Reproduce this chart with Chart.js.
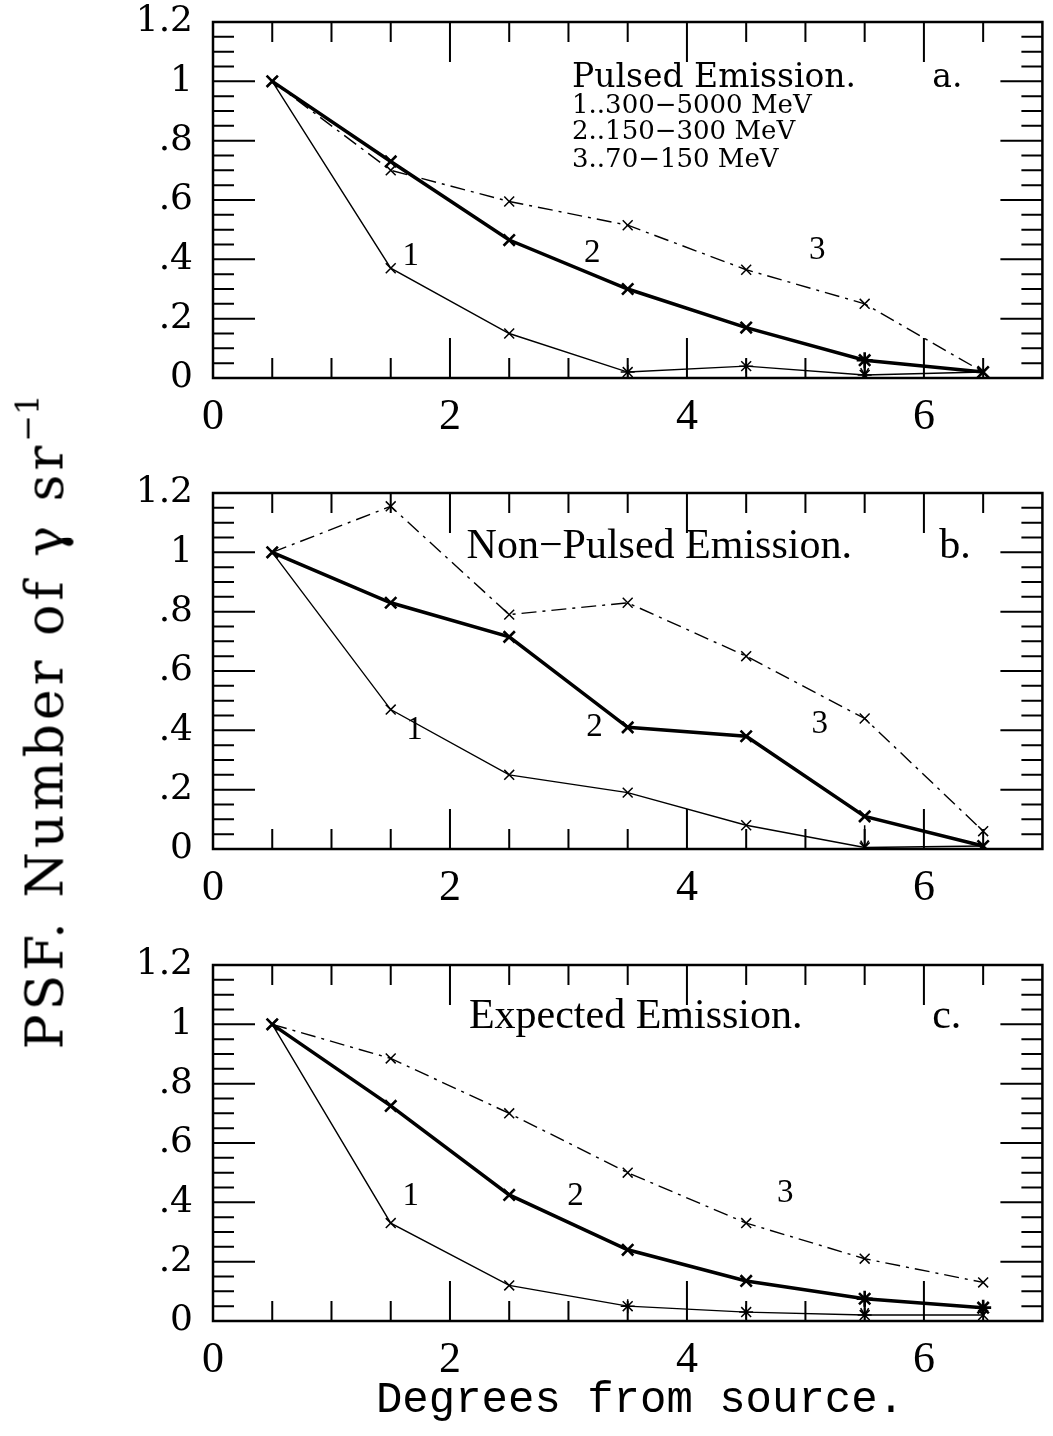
<!DOCTYPE html>
<html>
<head>
<meta charset="utf-8">
<script src="https://cdn.jsdelivr.net/npm/chart.js@4.4.0/dist/chart.umd.min.js"></script>
<style>
  body { margin: 0; background: #fff; }
  #page { position: relative; width: 1053px; height: 1436px; overflow: hidden; }
  canvas.panel { position: absolute; left: 0; }
  #ytitle {
    position: absolute; left: 41px; top: 722px;
    transform: translate(-50%, -50%) rotate(-90deg);
    font-family: "DejaVu Serif"; font-size: 52px; letter-spacing: 4px;
    white-space: nowrap; line-height: 1; color: #000;
  }
  #ytitle sup { font-size: 32px; vertical-align: 0.75em; letter-spacing: 0; }
  #xtitle {
    position: absolute; left: 640px; top: 1378px;
    transform: translateX(-50%);
    font-family: "Liberation Mono"; font-size: 44px;
    white-space: nowrap; line-height: 1; color: #000;
  }
</style>
</head>
<body>
<div id="page">
  <canvas id="panelA" class="panel" width="1053" height="460" style="top:0px"></canvas>
  <canvas id="panelB" class="panel" width="1053" height="460" style="top:471px"></canvas>
  <canvas id="panelC" class="panel" width="1053" height="460" style="top:943px"></canvas>
  <div id="ytitle">PSF. Number of γ sr<sup>−1</sup></div>
  <div id="xtitle">Degrees from source.</div>
</div>

<script>
// bin centres, degrees from the source
var xCenters = [0.5, 1.5, 2.5, 3.5, 4.5, 5.5, 6.5];
var xTickLabels = [0, 2, 4, 6];
var yTickLabels = [0, 0.2, 0.4, 0.6, 0.8, 1, 1.2];

// a. pulsed emission
var pulsedBand1 = [1.0, 0.37, 0.15, 0.02, 0.04, 0.01, 0.02];
var pulsedBand2 = [1.0, 0.73, 0.465, 0.30, 0.17, 0.06, 0.02];
var pulsedBand3 = [1.0, 0.70, 0.595, 0.515, 0.365, 0.25, 0.02];
var pulsedLimits = [null, null, null, null, null, 0.06, null];

// b. non-pulsed emission
var nonPulsedBand1 = [1.0, 0.47, 0.25, 0.19, 0.08, 0.005, 0.01];
var nonPulsedBand2 = [1.0, 0.83, 0.715, 0.41, 0.38, 0.11, 0.01];
var nonPulsedBand3 = [1.0, 1.155, 0.79, 0.83, 0.65, 0.44, 0.06];
var nonPulsedLimits = [null, null, null, null, null, 0.08, null];

// c. expected emission
var expectedBand1 = [1.0, 0.33, 0.12, 0.05, 0.03, 0.02, 0.02];
var expectedBand2 = [1.0, 0.725, 0.425, 0.24, 0.135, 0.075, 0.045];
var expectedBand3 = [1.0, 0.885, 0.70, 0.50, 0.33, 0.21, 0.13];
var expectedLimits = [null, null, null, null, null, 0.07, 0.06];

var bandNames = ['1..300−5000 MeV', '2..150−300 MeV', '3..70−150 MeV'];

function toPoints(values){
    return values.map(function(v, i){ return { x: xCenters[i], y: v }; });
}

// frame, inward ticks, limit arrows and the text inside each panel
var panelDecor = {
    id: 'panelDecor',
    afterDatasetsDraw: function(chart, args, opts){
        var ctx = chart.ctx;
        var area = chart.chartArea;
        var xs = chart.scales.x;
        var ys = chart.scales.y;

        ctx.save();
        ctx.strokeStyle = '#000';
        ctx.fillStyle = '#000';

        // ticks every 0.5 degree, long ones on the labelled values
        ctx.lineWidth = 2;
        for (var t = 0.5; t < 7; t += 0.5) {
            var px = xs.getPixelForValue(t);
            var len = (t % 2 === 0) ? 40 : 20;
            ctx.beginPath();
            ctx.moveTo(px, area.bottom); ctx.lineTo(px, area.bottom - len);
            ctx.moveTo(px, area.top); ctx.lineTo(px, area.top + len);
            ctx.stroke();
        }
        // y ticks every 0.05
        for (var k = 1; k < 24; k++) {
            var py = ys.getPixelForValue(k * 0.05);
            var ylen = (k % 4 === 0) ? 42 : 21;
            ctx.beginPath();
            ctx.moveTo(area.left, py); ctx.lineTo(area.left + ylen, py);
            ctx.moveTo(area.right, py); ctx.lineTo(area.right - ylen, py);
            ctx.stroke();
        }

        ctx.lineWidth = 2.5;
        ctx.strokeRect(area.left, area.top, area.right - area.left, area.bottom - area.top);

        // upper limits on the hard band
        ctx.lineWidth = 1.5;
        (opts.limits || []).forEach(function(top, i){
            if (top === null) return;
            var lx = xs.getPixelForValue(xCenters[i]);
            var y0 = ys.getPixelForValue(top);
            var y1 = ys.getPixelForValue(opts.base[i]);
            ctx.beginPath();
            ctx.moveTo(lx, y0); ctx.lineTo(lx, y1);
            ctx.moveTo(lx - 4, y1 - 7); ctx.lineTo(lx, y1); ctx.lineTo(lx + 4, y1 - 7);
            ctx.stroke();
        });

        // notes
        (opts.notes || []).forEach(function(n){
            ctx.font = n.font;
            ctx.textAlign = n.align || 'left';
            ctx.textBaseline = n.baseline || 'alphabetic';
            ctx.fillText(n.text, xs.getPixelForValue(n.x), ys.getPixelForValue(n.y));
        });
        ctx.restore();
    }
};

function makePanel(canvasId, band1, band2, band3, limits, notes, styles){
    var ctx = document.getElementById(canvasId).getContext('2d');

    return new Chart(ctx, {
        type: 'line',
        data: {
            datasets: [{
                data: toPoints(band1),
                borderColor: '#000',
                borderWidth: 1.4,
                pointStyle: styles.s1,
                pointRadius: 7,
                pointBorderWidth: 1.5,
                pointBorderColor: '#000',
                pointBackgroundColor: '#000'
            }, {
                data: toPoints(band2),
                borderColor: '#000',
                borderWidth: 3.5,
                pointStyle: styles.s2,
                pointRadius: 8,
                pointBorderWidth: 2.6,
                pointBorderColor: '#000',
                pointBackgroundColor: '#000'
            }, {
                data: toPoints(band3),
                borderColor: '#000',
                borderWidth: 1.4,
                borderDash: [15, 6, 3, 6],
                pointStyle: 'crossRot',
                pointRadius: 7,
                pointBorderWidth: 1.5,
                pointBorderColor: '#000',
                pointBackgroundColor: '#000'
            }]
        },
        options: {
            responsive: false,
            animation: false,
            devicePixelRatio: 1,
            layout: { padding: { top: 22, right: 7, left: 0, bottom: 0 } },
            plugins: {
                legend: { display: false },
                tooltip: { enabled: false },
                panelDecor: { limits: limits, base: band1, notes: notes }
            },
            scales: {
                x: {
                    type: 'linear', min: 0, max: 7,
                    grid: { display: false, drawTicks: false },
                    border: { display: false },
                    afterBuildTicks: function(s){ s.ticks = xTickLabels.map(function(v){ return { value: v }; }); },
                    afterFit: function(s){ s.height = 82; },
                    ticks: {
                        autoSkip: false, maxRotation: 0, padding: 13, color: '#000',
                        font: { family: 'Liberation Serif', size: 44 }
                    }
                },
                y: {
                    type: 'linear', min: 0, max: 1.2,
                    grid: { display: false, drawTicks: false },
                    border: { display: false },
                    afterBuildTicks: function(s){ s.ticks = yTickLabels.map(function(v){ return { value: v }; }); },
                    // fixed axis width; the top label fits in the layout padding
                    afterFit: function(s){ s.width = 213; s.paddingTop = 0; s.paddingBottom = 0; },
                    ticks: {
                        autoSkip: false, padding: 20, color: '#000',
                        font: { family: 'DejaVu Serif', size: 36 },
                        callback: function(v){ return String(Math.round(v * 10) / 10).replace(/^0\./, '.'); }
                    }
                }
            }
        },
        plugins: [panelDecor]
    });
}

var pulsedFont = '33px "DejaVu Serif"';
var titleFont = '42px "Liberation Serif"';
var bandFont = '26px "DejaVu Serif"';
var numFont = '33px "Liberation Serif"';

function curveNumbers(pos){
    return pos.map(function(p, i){
        return { text: String(i + 1), x: p[0], y: p[1], font: numFont, align: 'center', baseline: 'middle' };
    });
}

makePanel('panelA', pulsedBand1, pulsedBand2, pulsedBand3, pulsedLimits, [
    { text: 'Pulsed Emission.', x: 3.03, y: 0.98, font: pulsedFont },
    { text: 'a.', x: 6.07, y: 0.98, font: pulsedFont },
    { text: bandNames[0], x: 3.03, y: 0.892, font: bandFont },
    { text: bandNames[1], x: 3.03, y: 0.805, font: bandFont },
    { text: bandNames[2], x: 3.03, y: 0.71, font: bandFont }
].concat(curveNumbers([[1.67, 0.41], [3.20, 0.42], [5.10, 0.43]])), {
    s1: ['crossRot', 'crossRot', 'crossRot', 'star', 'star', 'star', 'crossRot'],
    s2: ['crossRot', 'crossRot', 'crossRot', 'crossRot', 'crossRot', 'star', 'crossRot']
});

makePanel('panelB', nonPulsedBand1, nonPulsedBand2, nonPulsedBand3, nonPulsedLimits, [
    { text: 'Non−Pulsed Emission.', x: 2.14, y: 0.98, font: titleFont },
    { text: 'b.', x: 6.13, y: 0.98, font: titleFont }
].concat(curveNumbers([[1.70, 0.40], [3.22, 0.41], [5.12, 0.42]])), {
    s1: 'crossRot',
    s2: 'crossRot'
});

makePanel('panelC', expectedBand1, expectedBand2, expectedBand3, expectedLimits, [
    { text: 'Expected Emission.', x: 2.16, y: 0.988, font: titleFont },
    { text: 'c.', x: 6.07, y: 0.988, font: titleFont }
].concat(curveNumbers([[1.67, 0.42], [3.06, 0.42], [4.83, 0.43]])), {
    s1: ['crossRot', 'crossRot', 'crossRot', 'star', 'star', 'star', 'crossRot'],
    s2: ['crossRot', 'crossRot', 'crossRot', 'crossRot', 'crossRot', 'star', 'star']
});
</script>
</body>
</html>
